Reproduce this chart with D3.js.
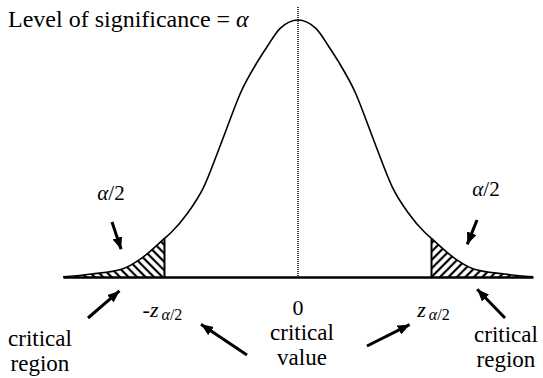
<!DOCTYPE html>
<html>
<head>
<meta charset="utf-8">
<script src="https://cdn.jsdelivr.net/npm/d3@7"></script>
<style>body { margin: 0; background: #fff; font-family: 'Liberation Serif'; }</style>
</head>
<body>
<svg class="curve" width="543" height="378"></svg>
<script>
// points (z, density)
var curveZ = [-3.45, -3.25, -3.03, -2.59, -2.3, -1.96, -1.863, -1.62, -1.383, -1.183, -1.037, -0.844, -0.601, -0.456, -0.262, 0,
              0.262, 0.456, 0.601, 0.844, 1.037, 1.183, 1.383, 1.62, 1.863, 1.96, 2.3, 2.59, 3.03, 3.25, 3.45];
var curveDensity = [0.0005, 0.002, 0.0047, 0.012, 0.029, 0.060, 0.069, 0.0993, 0.140, 0.1925, 0.2333, 0.2856, 0.333, 0.357, 0.386, 0.3989,
                    0.386, 0.357, 0.333, 0.2856, 0.2333, 0.1925, 0.140, 0.0993, 0.069, 0.060, 0.029, 0.012, 0.0047, 0.002, 0.0005];
var critZ = 1.96;
var tickValues = [0];
var tickLabels = ['0'];

var points = curveZ.map(function(z, i) { return { z: z, d: curveDensity[i] }; });

var svg = d3.select('svg.curve');

var x = d3.scaleLinear()
  .domain([-3.45, 3.45])
  .range([63, 533]);

var y = d3.scaleLinear()
  .domain([0, 0.3989])
  .range([277, 20]);

var line = d3.line()
  .x(function(d) { return x(d.z); })
  .y(function(d) { return y(d.d); })
  .curve(d3.curveMonotoneX);

var area = d3.area()
  .x(function(d) { return x(d.z); })
  .y0(y(0))
  .y1(function(d) { return y(d.d); })
  .curve(d3.curveMonotoneX);

// small helper so every label gets its face and size set the same way
function label(sel, size) {
  return sel.append('text')
    .attr('font-size', size)
    .style('font-family', "'Liberation Serif'");
}

var defs = svg.append('defs');

// hatching: left tail leans "\", right tail leans "/"
[['hatchLeft', -45], ['hatchRight', 45]].forEach(function(h) {
  defs.append('pattern')
    .attr('id', h[0])
    .attr('patternUnits', 'userSpaceOnUse')
    .attr('width', 6)
    .attr('height', 6)
    .attr('patternTransform', 'rotate(' + h[1] + ')')
    .append('line')
      .attr('x1', 3).attr('y1', -1)
      .attr('x2', 3).attr('y2', 7)
      .attr('stroke', '#000')
      .attr('stroke-width', 2.2);
});

defs.append('marker')
  .attr('id', 'head')
  .attr('viewBox', '0 0 12 10')
  .attr('refX', 12)
  .attr('refY', 5)
  .attr('markerWidth', 12)
  .attr('markerHeight', 10)
  .attr('markerUnits', 'userSpaceOnUse')
  .attr('orient', 'auto')
  .append('path')
    .attr('d', 'M0,0L12,5L0,10Z')
    .attr('fill', '#000');

// shaded tails
svg.append('path')
  .datum(points.filter(function(d) { return d.z <= -critZ; }))
  .attr('d', area)
  .attr('fill', 'url(#hatchLeft)');

svg.append('path')
  .datum(points.filter(function(d) { return d.z >= critZ; }))
  .attr('d', area)
  .attr('fill', 'url(#hatchRight)');

// dotted centre line
svg.append('line')
  .attr('x1', x(0)).attr('x2', x(0))
  .attr('y1', 7).attr('y2', y(0))
  .attr('stroke', '#000')
  .attr('stroke-width', 1.5)
  .attr('stroke-dasharray', '1,1');

// the curve itself
svg.append('path')
  .datum(points)
  .attr('d', line)
  .attr('fill', 'none')
  .attr('stroke', '#000')
  .attr('stroke-width', 1.6);

// critical value lines
var critIdx = [curveZ.indexOf(-critZ), curveZ.indexOf(critZ)];
svg.selectAll('line.crit')
  .data(critIdx)
  .enter()
    .append('line')
      .attr('class', 'crit')
      .attr('x1', function(i) { return x(curveZ[i]); })
      .attr('x2', function(i) { return x(curveZ[i]); })
      .attr('y1', y(0))
      .attr('y2', function(i) { return y(curveDensity[i]); })
      .attr('stroke', '#000')
      .attr('stroke-width', 2);

// horizontal axis line; its tick text is written below as our own label
var axis = svg.append('g')
  .attr('transform', 'translate(0,' + y(0) + ')')
  .call(d3.axisBottom(x)
    .tickValues(tickValues)
    .tickFormat('')
    .tickSize(0)
    .tickSizeOuter(0));

axis.select('.domain')
  .attr('stroke', '#000')
  .attr('stroke-width', 2.5);
axis.selectAll('.tick text').remove();

tickValues.forEach(function(v, i) {
  label(svg, 22)
    .attr('x', x(v))
    .attr('y', 315)
    .attr('text-anchor', 'middle')
    .text(tickLabels[i]);
});

// z labels under the critical lines
function zLabel(cx, sign) {
  var t = label(svg, 22)
    .attr('x', cx)
    .attr('y', 317)
    .attr('text-anchor', 'middle');
  if (sign) t.append('tspan').text(sign);
  t.append('tspan').attr('font-style', 'italic').text('z');
  t.append('tspan').attr('dy', 3).attr('dx', 3).attr('font-size', 16).attr('font-style', 'italic').text('α');
  t.append('tspan').attr('font-size', 16).text('/2');
}
zLabel(x(-critZ) - 2, '-');
zLabel(x(critZ) + 2, '');

// title
var title = label(svg, 24)
  .attr('x', 8)
  .attr('y', 27);
title.append('tspan').text('Level of significance = ');
title.append('tspan').attr('font-style', 'italic').text('α');

// alpha/2 labels
[[111, 200], [486, 196]].forEach(function(p) {
  var t = label(svg, 21)
    .attr('x', p[0])
    .attr('y', p[1])
    .attr('text-anchor', 'middle');
  t.append('tspan').attr('font-style', 'italic').text('α');
  t.append('tspan').text('/2');
});

// two-line labels, one <text> per line
var labels = [
  { x: 40,  y: 346, lines: ['critical', 'region'] },
  { x: 302, y: 340, lines: ['critical', 'value'] },
  { x: 506, y: 342, lines: ['critical', 'region'] }
];
labels.forEach(function(d) {
  d.lines.forEach(function(l, i) {
    label(svg, 23)
      .attr('x', d.x)
      .attr('y', d.y + i * 25)
      .attr('text-anchor', 'middle')
      .text(l);
  });
});

// arrows: [fromX, fromY, tipX, tipY]
var arrows = [
  [112, 222, 123, 255],
  [477, 220, 465, 250],
  [88, 318, 124, 287],
  [247, 355, 196, 321],
  [367, 346, 415, 322],
  [505, 318, 473, 285]
];
svg.selectAll('line.arrow')
  .data(arrows)
  .enter()
    .append('line')
      .attr('class', 'arrow')
      .attr('x1', function(d) { return d[0]; })
      .attr('y1', function(d) { return d[1]; })
      .attr('x2', function(d) {
        // stop the shaft a bit short so the tip stays sharp
        var len = Math.hypot(d[2] - d[0], d[3] - d[1]);
        return d[2] - (d[2] - d[0]) / len * 6;
      })
      .attr('y2', function(d) {
        var len = Math.hypot(d[2] - d[0], d[3] - d[1]);
        return d[3] - (d[3] - d[1]) / len * 6;
      })
      .attr('stroke', '#000')
      .attr('stroke-width', 3)
      .attr('marker-end', 'url(#head)');
</script>
</body>
</html>
